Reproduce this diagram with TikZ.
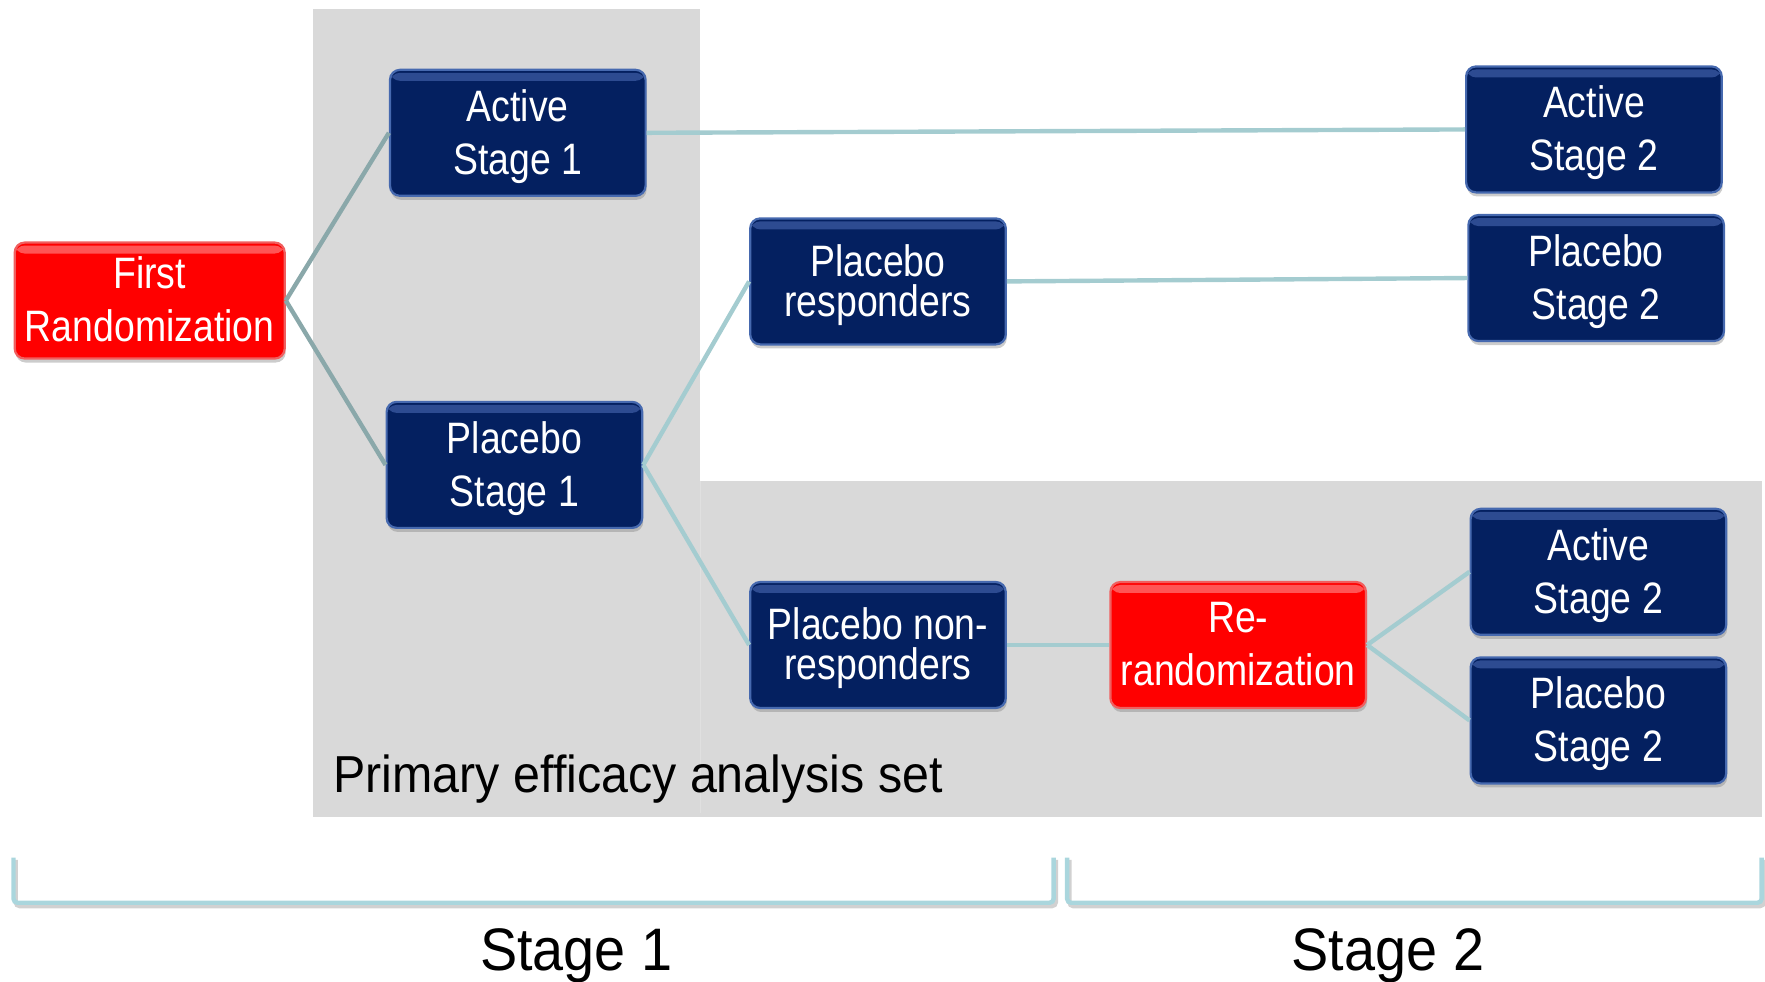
\documentclass[tikz,border=0pt]{standalone}
\usepackage{fontspec}
\setmainfont{Liberation Sans}
\newfontfamily\boxfont[FakeStretch=0.85]{Liberation Sans}
\newfontfamily\labelfont[FakeStretch=0.93]{Liberation Sans}
\usetikzlibrary{shadows}

\definecolor{boxblue}{RGB}{4,32,96}
\definecolor{boxedge}{RGB}{70,105,175}
\definecolor{boxtop}{RGB}{45,75,145}
\definecolor{boxred}{RGB}{255,0,0}
\definecolor{rededge}{RGB}{240,95,95}
\definecolor{redtop}{RGB}{255,85,85}
\definecolor{panelgray}{RGB}{217,217,217}
\definecolor{linkteal}{RGB}{164,204,208}
\definecolor{linkgray}{RGB}{138,168,170}
\definecolor{bracketblue}{RGB}{170,214,221}

\tikzset{
	topband/.style={path picture={\fill[#1] ([yshift=-1.5pt]path picture bounding box.north west) rectangle ([yshift=-5.5pt]path picture bounding box.north east);}},
	box/.style={draw=boxedge, line width=1.1pt, fill=boxblue, rounded corners=5pt, text=white, align=center,
		minimum width=127.8pt, minimum height=63pt, inner sep=0pt, text depth=1.2pt,
		font=\boxfont\fontsize{22}{26.5}\selectfont,
		drop shadow={shadow xshift=0.5pt, shadow yshift=-2pt, opacity=0.4}, topband=boxtop},
	tightbox/.style={box, font=\boxfont\fontsize{22}{20}\selectfont},
	redbox/.style={box, draw=rededge, fill=boxred, topband=redtop},
	panel/.style={fill=panelgray, drop shadow={shadow xshift=0pt, shadow yshift=-2pt, opacity=0.3}},
	link/.style={draw=linkteal, line width=2.2pt},
	firstlink/.style={draw=linkgray, line width=2.2pt},
	bracket/.style={draw=bracketblue, line width=2.2pt, rounded corners=2pt},
	bracketshade/.style={draw=black, opacity=0.18, line width=2.2pt, rounded corners=2pt}
}

\begin{document}
\begin{tikzpicture}[x=0.5628pt, y=-0.5628pt]
	\useasboundingbox (0,0) rectangle (1568,872);

	\fill[panel] (278,8) rectangle (622,722);
	\fill[panel] (622,427) rectangle (1565,722);
	\draw[black!12, line width=0.6pt] (622,427) -- (622,722);

	\node[redbox, minimum width=135pt, minimum height=58pt] (first) at (133,267) {First\\Randomization};
	\node[box] (act1) at (460,118) {Active\\Stage 1};
	\node[box] (plc1) at (457,413) {Placebo\\Stage 1};
	\node[tightbox] (plcresp) at (780,250) {Placebo\\responders};
	\node[tightbox] (plcnon) at (780,573) {Placebo non-\\responders};
	\node[redbox] (rerand) at (1100,573) {Re-\\randomization};
	\node[box] (act2a) at (1416,115) {Active\\Stage 2};
	\node[box] (plc2a) at (1418,247) {Placebo\\Stage 2};
	\node[box] (act2b) at (1420,508) {Active\\Stage 2};
	\node[box] (plc2b) at (1420,640) {Placebo\\Stage 2};

	\draw[firstlink] (first.east) -- (act1.west);
	\draw[firstlink] (first.east) -- (plc1.west);
	\draw[link] (act1.east) -- (act2a.west);
	\draw[link] (plc1.east) -- (plcresp.west);
	\draw[link] (plc1.east) -- (plcnon.west);
	\draw[link] (plcresp.east) -- (plc2a.west);
	\draw[link] (plcnon.east) -- (rerand.west);
	\draw[link] (rerand.east) -- (act2b.west);
	\draw[link] (rerand.east) -- (plc2b.west);

	\node[anchor=west, inner sep=0pt, font=\labelfont\fontsize{26}{30}\selectfont] (primary) at (296,692) {Primary efficacy analysis set};

	\draw[bracketshade] (14,764) -- (14,805) -- (938,805) -- (938,764);
	\draw[bracket] (12,762) -- (12,802) -- (936,802) -- (936,762);
	\draw[bracketshade] (950,764) -- (950,805) -- (1567,805) -- (1567,764);
	\draw[bracket] (948,762) -- (948,802) -- (1565,802) -- (1565,762);

	\node[font=\labelfont\fontsize{30}{34}\selectfont] (stage1) at (512,849) {Stage 1};
	\node[font=\labelfont\fontsize{30}{34}\selectfont] (stage2) at (1233,849) {Stage 2};
\end{tikzpicture}
\end{document}
